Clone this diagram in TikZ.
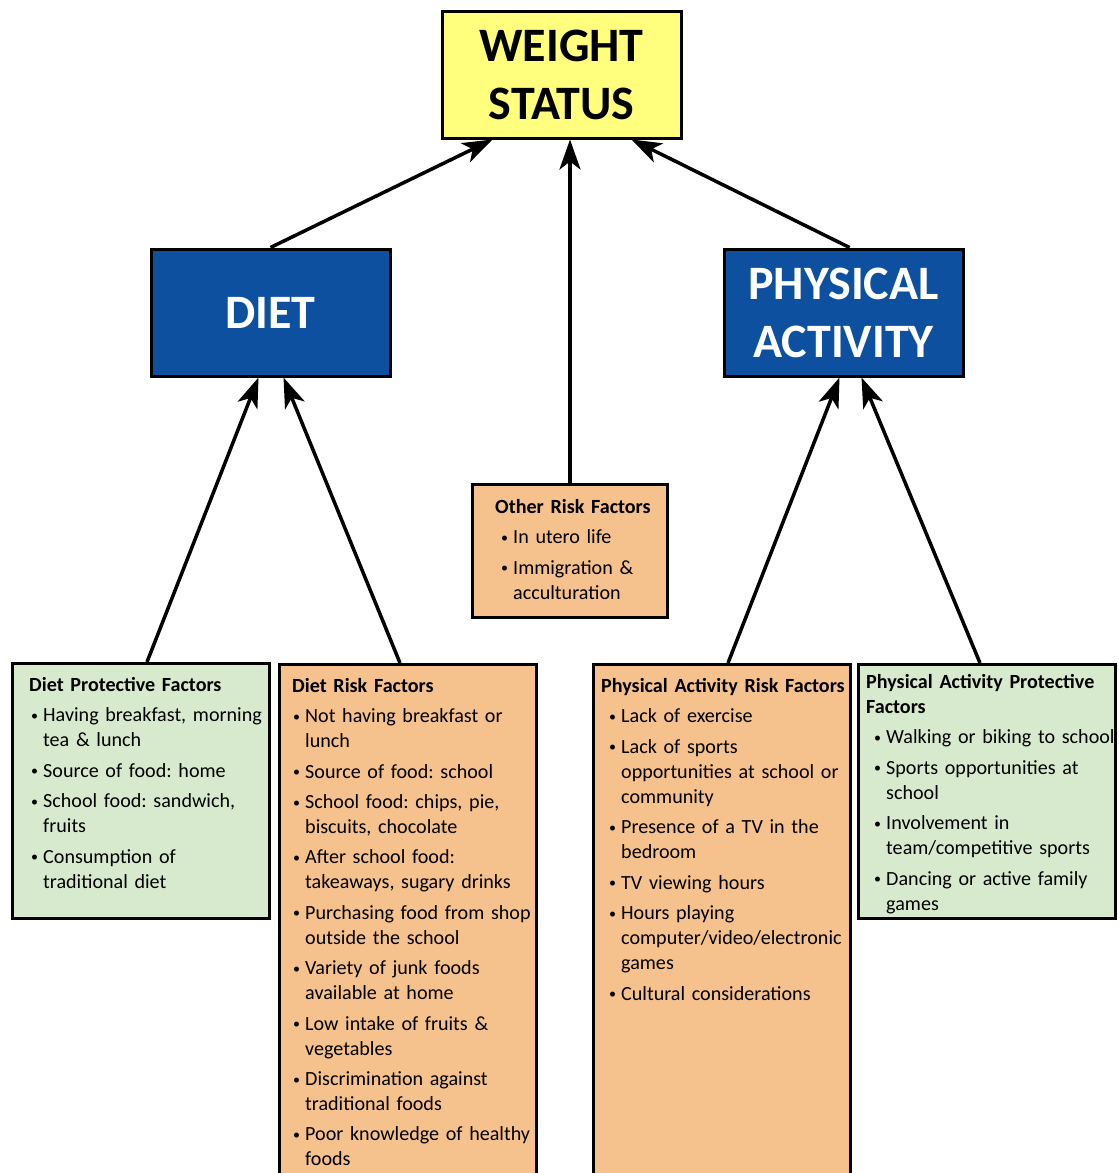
\documentclass[tikz,border=0pt]{standalone}
\usepackage{fontspec}
\setmainfont{Carlito}
\usetikzlibrary{arrows.meta}
\definecolor{statusyellow}{RGB}{255,255,125}
\definecolor{headblue}{RGB}{14,80,160}
\definecolor{riskorange}{RGB}{245,193,140}
\definecolor{protgreen}{RGB}{216,234,206}
\newlength{\bulind}
\newcommand{\itm}{\par\hangindent=\dimexpr\bulind+11pt\relax\hangafter=1\noindent
  \makebox[\dimexpr\bulind+11pt\relax][l]{\hspace*{\dimexpr\bulind-1pt\relax}\raisebox{1.5pt}{\fontsize{14}{14}\selectfont\textbullet}}}
\tikzset{
  headbox/.style = {draw=black, line width=3pt, minimum width=239pt,
    minimum height=127pt, align=center, inner sep=0pt,
    font=\bfseries\fontsize{48}{58}\selectfont},
  factbox/.style = {draw=black, line width=3pt, anchor=north west,
    minimum width=257pt, inner sep=0pt},
  facttext/.style = {anchor=north west, inner sep=0pt, align=left,
    font=\fontsize{20.1}{25}\selectfont\frenchspacing},
  up/.style = {line width=3.5pt, -{Stealth[length=30pt,width=21pt,inset=8pt]}}
}
\begin{document}
\begin{tikzpicture}[x=1pt,y=-1pt]
\clip (0,0) rectangle (1119,1173);
\fill[white] (0,0) rectangle (1119,1173);

% top and middle boxes
\node[headbox, fill=statusyellow] (weight) at (561.5,74.5) {WEIGHT\\STATUS};
\node[headbox, fill=headblue, text=white] (diet) at (270.5,312.5) {DIET};
\node[headbox, fill=headblue, text=white] (pa) at (843.5,312.5) {PHYSICAL\\ACTIVITY};

% factor boxes
\node[factbox, fill=riskorange, minimum width=195pt, minimum height=133pt] (other) at (471,483) {};
\node[factbox, fill=protgreen, minimum height=255pt] (dprot) at (11,662) {};
\node[factbox, fill=riskorange, minimum height=530pt] (drisk) at (278,663) {};
\node[factbox, fill=riskorange, minimum height=530pt] (parisk) at (592,663) {};
\node[factbox, fill=protgreen, minimum height=254pt] (paprot) at (857,663) {};

\node[facttext, text width=170pt] (other-txt) at ([xshift=24pt,yshift=-16pt]other.north west)
{\setlength{\parskip}{5.5pt}\setlength{\bulind}{7pt}\textbf{Other Risk Factors}
\itm In utero life
\itm Immigration \&\newline acculturation\par};

\node[facttext, text width=260pt] (dprot-txt) at ([xshift=18pt,yshift=-15pt]dprot.north west)
{\setlength{\parskip}{5.5pt}\setlength{\bulind}{3pt}\textbf{Diet Protective Factors}
\itm Having breakfast, morning\newline tea \& lunch
\itm Source of food: home
\itm School food: sandwich,\newline fruits
\itm Consumption of\newline traditional diet\par};

\node[facttext, text width=260pt] (drisk-txt) at ([xshift=14pt,yshift=-15pt]drisk.north west)
{\setlength{\parskip}{5.4pt}\setlength{\bulind}{2pt}\textbf{Diet Risk Factors}
\itm Not having breakfast or\newline lunch
\itm Source of food: school
\itm School food: chips, pie,\newline biscuits, chocolate
\itm After school food:\newline takeaways, sugary drinks
\itm Purchasing food from shop\newline outside the school
\itm Variety of junk foods\newline available at home
\itm Low intake of fruits \&\newline vegetables
\itm Discrimination against\newline traditional foods
\itm Poor knowledge of healthy\newline foods\par};

\node[facttext, text width=260pt] (parisk-txt) at ([xshift=9pt,yshift=-15pt]parisk.north west)
{\setlength{\parskip}{5.5pt}\setlength{\bulind}{9pt}\textbf{Physical Activity Risk Factors}
\itm Lack of exercise
\itm Lack of sports\newline opportunities at school or\newline community
\itm Presence of a TV in the\newline bedroom
\itm TV viewing hours
\itm Hours playing\newline computer/video/electronic\newline games
\itm Cultural considerations\par};

\node[facttext, text width=260pt] (paprot-txt) at ([xshift=9pt,yshift=-11pt]paprot.north west)
{\setlength{\parskip}{5.5pt}\setlength{\bulind}{9pt}\textbf{Physical Activity Protective\newline Factors}
\itm Walking or biking to school
\itm Sports opportunities at\newline school
\itm Involvement in\newline team/competitive sports
\itm Dancing or active family\newline games\par};

% arrows
\draw[up] (diet.north) -- ([xshift=52pt]weight.south west);
\draw[up] (other.north) -- (other.north |- weight.south);
\draw[up] ([xshift=6pt]pa.north) -- ([xshift=-51pt]weight.south east);
\draw[up] ([xshift=136pt]dprot.north west) -- ([xshift=-12pt]diet.south);
\draw[up] ([xshift=122pt]drisk.north west) -- ([xshift=13pt]diet.south);
\draw[up] ([xshift=136pt]parisk.north west) -- ([xshift=-4pt]pa.south);
\draw[up] ([xshift=123pt]paprot.north west) -- ([xshift=18pt]pa.south);
\end{tikzpicture}
\end{document}
